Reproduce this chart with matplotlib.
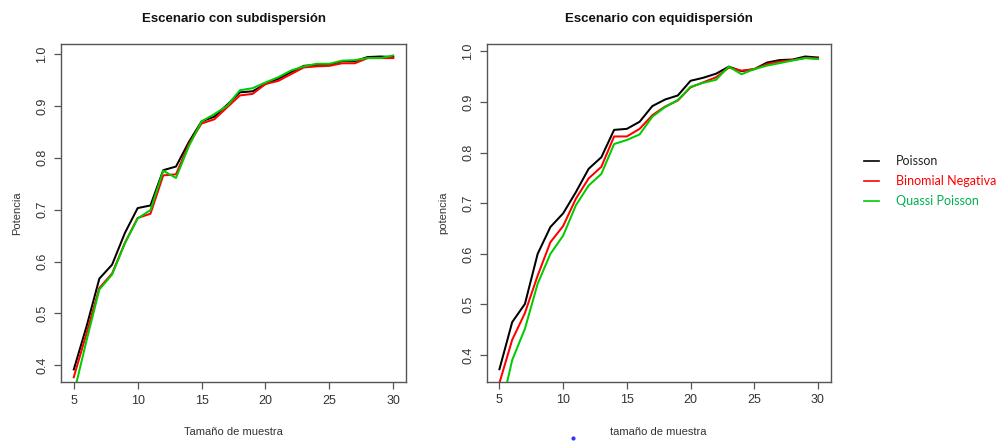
import matplotlib
matplotlib.use("Agg")
import matplotlib.pyplot as plt
from matplotlib.lines import Line2D

n = list(range(5, 31))

# Escenario con subdispersión
sub_poisson = [0.392, 0.475, 0.567, 0.594, 0.655, 0.703, 0.708, 0.776, 0.783, 0.830,
               0.870, 0.879, 0.902, 0.926, 0.928, 0.942, 0.952, 0.965, 0.977, 0.979,
               0.979, 0.986, 0.986, 0.994, 0.995, 0.994]
sub_binneg = [0.377, 0.462, 0.549, 0.577, 0.636, 0.684, 0.692, 0.766, 0.768, 0.826,
              0.866, 0.874, 0.897, 0.920, 0.923, 0.942, 0.948, 0.961, 0.974, 0.976,
              0.977, 0.982, 0.982, 0.992, 0.992, 0.992]
sub_quasi = [0.345, 0.448, 0.546, 0.575, 0.635, 0.683, 0.699, 0.775, 0.761, 0.822,
             0.870, 0.884, 0.900, 0.930, 0.934, 0.945, 0.955, 0.968, 0.976, 0.981,
             0.981, 0.987, 0.988, 0.992, 0.992, 0.997]

# Escenario con equidispersión
eq_poisson = [0.372, 0.465, 0.501, 0.600, 0.653, 0.680, 0.722, 0.768, 0.791, 0.845,
              0.847, 0.861, 0.892, 0.905, 0.913, 0.942, 0.948, 0.956, 0.970, 0.961,
              0.965, 0.978, 0.983, 0.984, 0.990, 0.988]
eq_binneg = [0.345, 0.430, 0.483, 0.557, 0.623, 0.655, 0.709, 0.749, 0.772, 0.832,
             0.832, 0.847, 0.874, 0.891, 0.903, 0.929, 0.939, 0.949, 0.968, 0.962,
             0.965, 0.975, 0.980, 0.983, 0.987, 0.986]
eq_quasi = [0.280, 0.390, 0.452, 0.541, 0.600, 0.636, 0.696, 0.735, 0.758, 0.817,
            0.825, 0.836, 0.871, 0.890, 0.904, 0.930, 0.938, 0.944, 0.970, 0.955,
            0.965, 0.972, 0.977, 0.982, 0.987, 0.985]

labels = ["Poisson", "Binomial Negativa", "Quassi Poisson"]
line_colors = ["#000000", "#ff0000", "#00cc00"]
text_colors = ["#222222", "#ff0000", "#00b050"]

plt.rcParams['font.family'] = ['Liberation Sans', 'DejaVu Sans']

W, H = 1001, 441
fig = plt.figure(figsize=(W / 100, H / 100), dpi=100)

panels = [
    dict(rect=[61 / W, 1 - 382 / H, 345 / W, 338 / H],
         title="Escenario con subdispersión", xlabel="Tamaño de muestra",
         ylabel="Potencia", series=[sub_poisson, sub_binneg, sub_quasi]),
    dict(rect=[486.7 / W, 1 - 381.7 / H, 344 / W, 337.7 / H],
         title="Escenario con equidispersión", xlabel="tamaño de muestra",
         ylabel="potencia", series=[eq_poisson, eq_binneg, eq_quasi]),
]

gray = "#555555"
for p in panels:
    ax = fig.add_axes(p["rect"])
    for s, c in zip(p["series"], line_colors):
        ax.plot(n, s, color=c, lw=1.45)
    base = p["series"][0]
    lo, hi = min(base), max(base)
    r = hi - lo
    ax.set_ylim(lo - 0.04 * r, hi + 0.04 * r)
    ax.set_xlim(5 - 0.04 * 25, 30 + 0.04 * 25)
    ax.set_xticks([5, 10, 15, 20, 25, 30])
    ax.set_yticks([0.4, 0.5, 0.6, 0.7, 0.8, 0.9, 1.0])
    ax.set_yticklabels(["0.4", "0.5", "0.6", "0.7", "0.8", "0.9", "1.0"],
                       rotation=90, va="center")
    for sp in ax.spines.values():
        sp.set_color(gray)
        sp.set_linewidth(1.0)
    ax.tick_params(direction="out", length=5, width=0.9, color=gray,
                   labelsize=9, labelcolor="#333333", pad=4)
    ax.set_title(p["title"], fontsize=9.5, fontweight="bold", pad=16, color="#111111")
    ax.set_xlabel(p["xlabel"], fontsize=8, color="#333333", labelpad=15)
    ax.set_ylabel(p["ylabel"], fontsize=8, color="#333333", labelpad=10)

# Legend (outside, right)
ys = [160.7, 180.7, 200.7]
for lab, lc, tc, y in zip(labels, line_colors, text_colors, ys):
    fig.add_artist(Line2D([864 / W, 879 / W], [1 - y / H, 1 - y / H],
                          transform=fig.transFigure, color=lc, lw=1.2))
    fig.text(896 / W, 1 - y / H, lab, color=tc, fontsize=9, va="center",
             ha="left", family=["Lato", "DejaVu Sans"])

# stray blue dot present in the original
fig.add_artist(Line2D([573 / W], [1 - 437.5 / H], transform=fig.transFigure,
                      marker="o", markersize=2, color="#3333ff", lw=0))

fig.savefig("out.png", dpi=100)
